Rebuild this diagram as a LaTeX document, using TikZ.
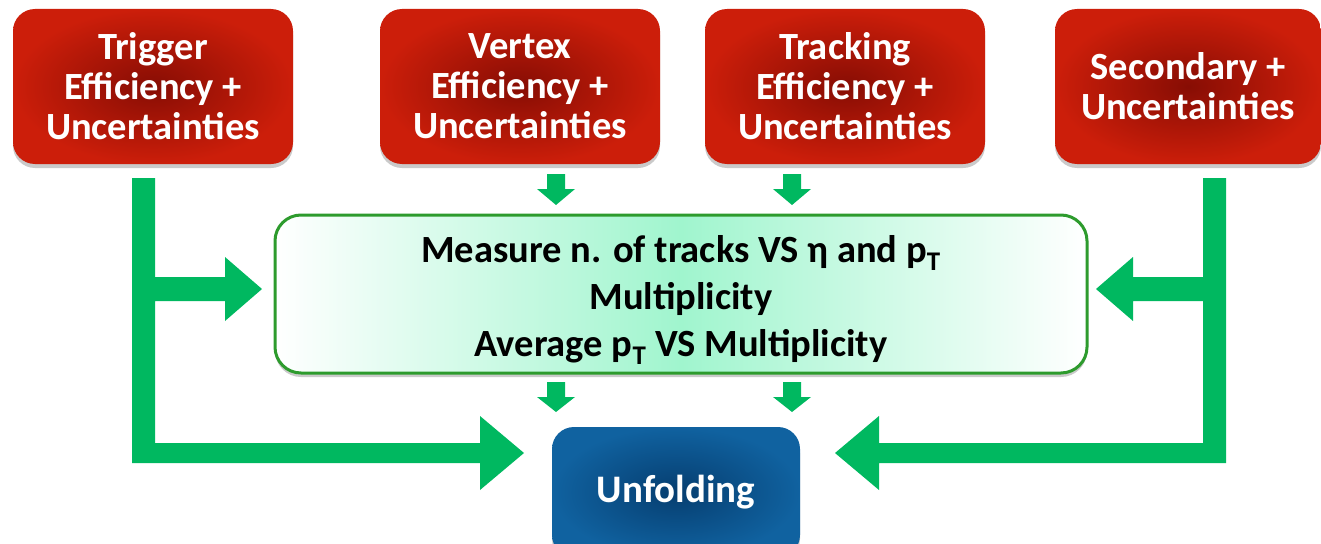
\documentclass[tikz,border=0pt]{standalone}
\usepackage{fontspec}
\setmainfont{Carlito}
\usetikzlibrary{shadows,calc}

\definecolor{flowgreen}{RGB}{0,184,96}
\definecolor{redout}{RGB}{204,30,10}
\definecolor{redin}{RGB}{135,13,4}
\definecolor{blueout}{RGB}{16,98,160}
\definecolor{bluein}{RGB}{6,62,112}
\definecolor{mint}{RGB}{160,245,206}
\definecolor{mintedge}{RGB}{45,155,45}

\tikzset{
  softshadow/.style={drop shadow={shadow xshift=0pt, shadow yshift=-4pt, opacity=0.35, fill=black!60}},
  redbox/.style={rectangle, rounded corners=22pt, minimum width=280pt, minimum height=155pt,
    inner color=redin, outer color=redout, softshadow, text=white, align=center,
    font=\fontsize{38.5}{40}\selectfont\bfseries},
  measbox/.style={rectangle, rounded corners=26pt, minimum width=812pt, minimum height=158pt,
    draw=mintedge, line width=3pt, left color=white, right color=white, middle color=mint,
    softshadow},
  meastext/.style={align=center, text=black, font=\fontsize{38.5}{47}\selectfont\bfseries},
  bluebox/.style={rectangle, rounded corners=22pt, minimum width=248pt, minimum height=130pt,
    inner color=bluein, outer color=blueout, softshadow, text=white,
    font=\fontsize{39}{40}\selectfont\bfseries},
  blockarrow/.style={fill=flowgreen, draw=none}
}

\begin{document}
\begin{tikzpicture}[x=1pt,y=-1pt]
\useasboundingbox (0,0) rectangle (1321,543);
\clip (0,0) rectangle (1321,543);

% source boxes
\node[redbox] (trig)  at (153,86.5) {Trigger\\Efficiency +\\Uncertainties};
\node[redbox] (vert)  at (520,86.5) {Vertex\\Efficiency +\\Uncertainties};
\node[redbox] (track) at (845,86.5) {Tracking\\Efficiency +\\Uncertainties};
\node[redbox, minimum width=266pt] (sec) at (1188,86.5) {Secondary +\\Uncertainties};

% measurement box and its text
\node[measbox] (meas) at (681,294) {};
\node[meastext] (meastxt) at ($(meas.center)+(0,6)$)
  {Measure n. of tracks VS η and p\textsubscript{T}\\Multiplicity\\Average p\textsubscript{T} VS Multiplicity};

% final step
\node[bluebox] (unf) at (676,492) {Unfolding};

% small down arrows into and out of the measurement box
\foreach \cx in {556,792}{
  \fill[blockarrow] (\cx-9,174) -- (\cx+9,174) -- (\cx+9,189) -- (\cx+19,189) -- (\cx,205)
    -- (\cx-19,189) -- (\cx-9,189) -- cycle;
  \fill[blockarrow] (\cx-9,382) -- (\cx+9,382) -- (\cx+9,397) -- (\cx+19,397) -- (\cx,412)
    -- (\cx-19,397) -- (\cx-9,397) -- cycle;
}

% left feed: trigger efficiency into measurement and unfolding
\fill[blockarrow] (132,178) -- (155,178) -- (155,277) -- (225,277) -- (225,257) -- (262,289)
  -- (225,321) -- (225,301) -- (155,301) -- (155,443) -- (480,443) -- (480,416) -- (524,453)
  -- (480,490) -- (480,463) -- (132,463) -- cycle;

% right feed: secondaries into measurement and unfolding
\fill[blockarrow] (1226,178) -- (1203,178) -- (1203,277) -- (1133,277) -- (1133,257) -- (1096,289)
  -- (1133,321) -- (1133,301) -- (1203,301) -- (1203,443) -- (879,443) -- (879,416) -- (835,453)
  -- (879,490) -- (879,463) -- (1226,463) -- cycle;
\end{tikzpicture}
\end{document}
